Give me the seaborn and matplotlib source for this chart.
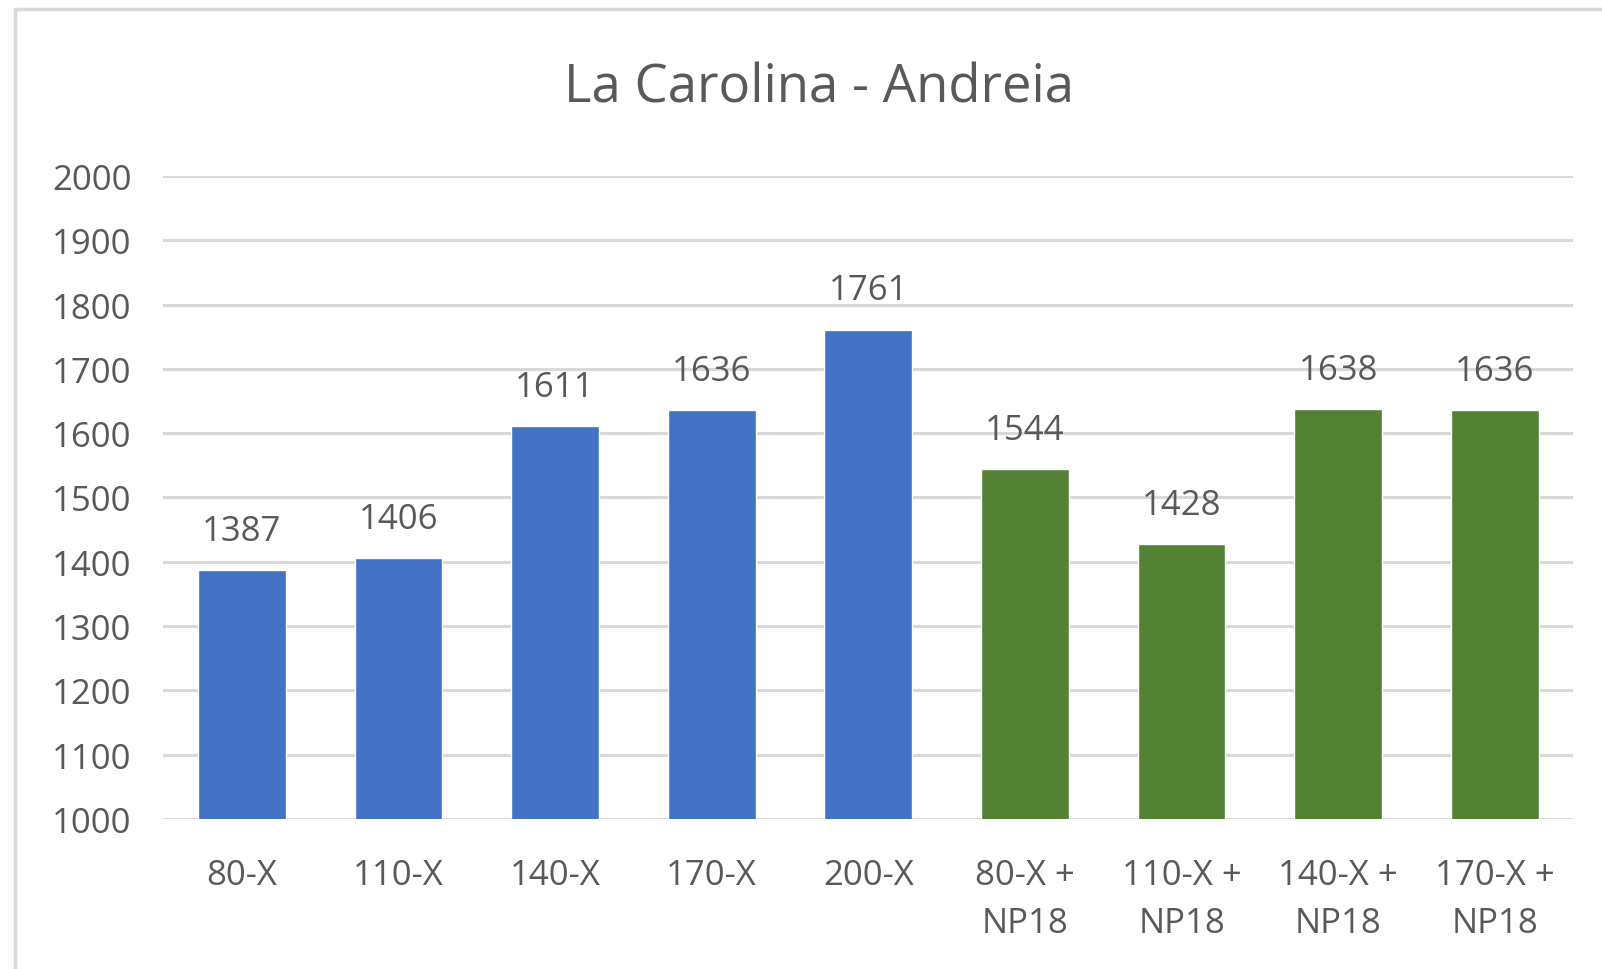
import pandas as pd
import seaborn as sns
import matplotlib.pyplot as plt
from matplotlib.patches import Rectangle

# chart data
categories = ['80-X', '110-X', '140-X', '170-X', '200-X',
              '80-X +\nNP18', '110-X +\nNP18', '140-X +\nNP18', '170-X +\nNP18']
values = [1387, 1406, 1611, 1636, 1761, 1544, 1428, 1638, 1636]
groups = ['X', 'X', 'X', 'X', 'X', 'NP18', 'NP18', 'NP18', 'NP18']
title = 'La Carolina - Andreia'

df = pd.DataFrame({'cat': categories, 'val': values, 'grp': groups})

sns.set_theme(style='white')
plt.rcParams['font.family'] = ['Open Sans', 'DejaVu Sans']
text_col = '#595959'
grid_col = '#D9D9D9'

fig = plt.figure(figsize=(16.02, 9.70), dpi=100)
ax = fig.add_axes([0.102, 0.1546, 0.880, 0.663])

sns.barplot(data=df, x='cat', y='val', hue='grp', dodge=False,
            palette={'X': '#4472C4', 'NP18': '#548235'}, saturation=1,
            width=0.56, legend=False, ax=ax, zorder=3)

ax.set_ylim(1000, 2000)
ax.set_xlim(-0.5, len(categories) - 0.5)
ax.set_yticks(range(1000, 2001, 100))
ax.yaxis.grid(True, color=grid_col, linewidth=2.2, zorder=0)
ax.set_axisbelow(True)
for s in ax.spines.values():
    s.set_visible(False)
ax.set_xlabel('')
ax.set_ylabel('')
ax.tick_params(axis='y', length=0, pad=23, labelsize=25, labelcolor=text_col)
ax.tick_params(axis='x', length=0, pad=28, labelsize=25, labelcolor=text_col)
for lab in ax.get_xticklabels():
    lab.set_linespacing(1.55)

for cont in ax.containers:
    ax.bar_label(cont, fmt='%d', padding=16, fontsize=25, color=text_col)

fig.text(0.511, 0.908, title, ha='center', va='center', fontsize=38, color=text_col)

# outer chart border (runs off right and bottom edges)
fig.patches.append(Rectangle((15 / 1602, -0.1), 1.2, 1.1 - 10 / 970,
                             transform=fig.transFigure, fill=False,
                             edgecolor=grid_col, linewidth=2.5))

fig.savefig('out.png', dpi=100)
